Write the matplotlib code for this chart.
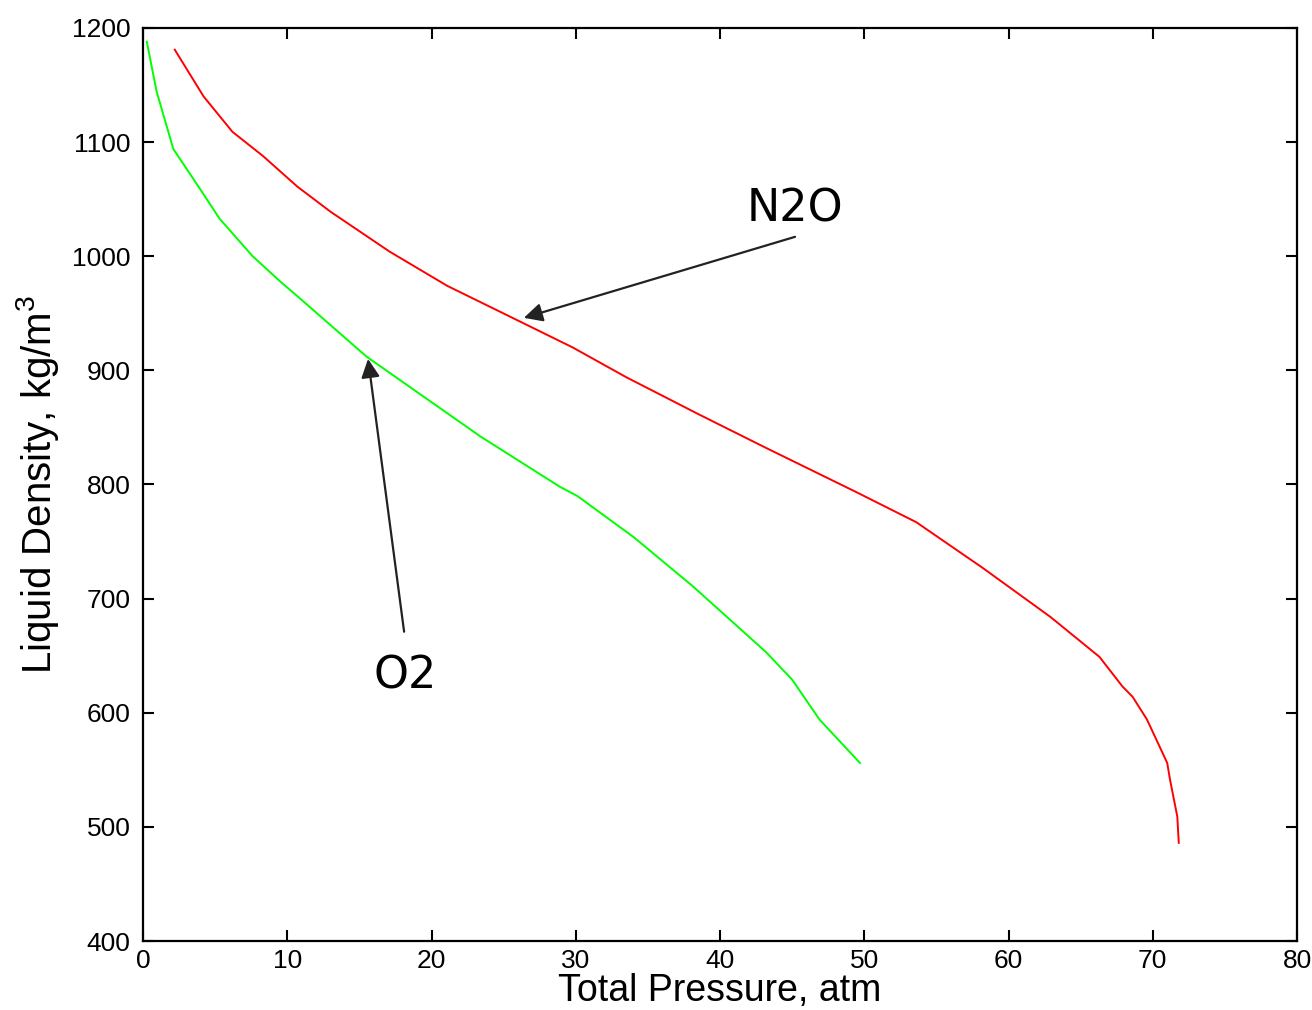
#!/usr/bin/env python3

import matplotlib
matplotlib.use("Agg")
import matplotlib.pyplot as plt


# ---------------- DATA ---------------- #

O2_PRESSURE = [0.26, 0.95, 2.1, 3.95, 5.3, 7.6, 9.5, 10.7, 15.5, 23.4,
               28.9, 30.1, 34.0, 38.1, 43.2, 45.0, 46.9, 49.7]
O2_DENSITY = [1188, 1144, 1094, 1059, 1033, 1000, 978, 965, 912, 842,
              798, 790, 754, 711, 653, 629, 594, 556]

N2O_PRESSURE = [2.2, 4.2, 6.2, 8.3, 10.7, 13.0, 17.1, 21.1, 26.1, 29.8,
                33.5, 38.6, 43.2, 49.5, 53.6, 58.2, 62.9, 66.3, 67.9, 68.6,
                69.6, 71.0, 71.2, 71.7, 71.8]
N2O_DENSITY = [1181, 1140, 1109, 1088, 1061, 1039, 1004, 974, 943, 920,
               894, 861, 832, 793, 767, 727, 684, 649, 623, 614,
               594, 556, 541, 509, 486]

X_TICKS = [0, 10, 20, 30, 40, 50, 60, 70, 80]
Y_TICKS = [400, 500, 600, 700, 800, 900, 1000, 1100, 1200]

# label text, label centre, arrow tail, arrow tip
N2O_NOTE = ("N2O", (45.2, 1041), (45.2, 1017), (26.4, 946))
O2_NOTE = ("O2", (18.2, 632), (18.1, 671), (15.6, 910))

TICK_FONT = ["Liberation Sans Narrow", "Liberation Sans", "DejaVu Sans"]
LABEL_FONT = ["Liberation Sans", "DejaVu Sans"]


# ---------------- PLOT ---------------- #

plt.rcParams["mathtext.default"] = "regular"

fig = plt.figure(figsize=(13.12, 10.10), dpi=100)
ax = fig.add_axes([0.109, 0.0683, 0.8796, 0.904])

ax.plot(O2_PRESSURE, O2_DENSITY, color="#00ff00", linewidth=1.4)
ax.plot(N2O_PRESSURE, N2O_DENSITY, color="#ff0000", linewidth=1.4)

ax.set_xlim(0, 80)
ax.set_ylim(400, 1200)
ax.set_xticks(X_TICKS)
ax.set_yticks(Y_TICKS)

ax.tick_params(direction="in", length=8, width=1.5, top=True, right=True,
               labelsize=19, pad=9)
ax.tick_params(axis="x", pad=6)
for lab in ax.get_xticklabels() + ax.get_yticklabels():
    lab.set_family(TICK_FONT)
for spine in ax.spines.values():
    spine.set_linewidth(1.6)

ax.set_xlabel("Total Pressure, atm", fontsize=27, family=LABEL_FONT, labelpad=0)
ax.set_ylabel("Liquid Density, kg/m$^3$", fontsize=29, family=LABEL_FONT, labelpad=8)

for text, xy_text, xy_tail, xy_tip in (N2O_NOTE, O2_NOTE):
    ax.text(xy_text[0], xy_text[1], text, fontsize=32, family="DejaVu Sans",
            ha="center", va="center")
    ax.annotate(
        "",
        xy=xy_tip,
        xytext=xy_tail,
        arrowprops=dict(arrowstyle="-|>", color="#222222", lw=1.6,
                        mutation_scale=28, shrinkA=0, shrinkB=0),
    )

plt.savefig("out.png", dpi=100)
plt.close()
